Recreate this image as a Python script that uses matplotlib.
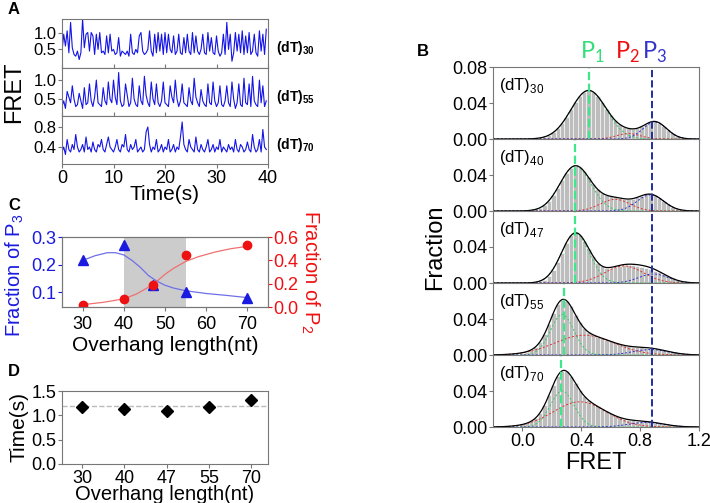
import numpy as np
import matplotlib
matplotlib.use("Agg")
import matplotlib.pyplot as plt

plt.rcParams['font.family'] = ['Liberation Sans', 'DejaVu Sans']
plt.rcParams['mathtext.fontset'] = 'custom'
plt.rcParams['mathtext.rm'] = 'Liberation Sans'

# ---------- panel A : FRET traces (dt = 1/3 s) ----------
trace_names = ['30', '55', '70']
trace_30 = [0.45, 0.95, 0.60, 1.05, 0.40, 1.30, 0.55, 0.35, 0.30, 0.45, 0.20, 0.40,
            1.40, 0.55, 0.95, 1.00, 0.45, 1.00, 0.90, 0.35, 0.95, 0.50, 1.00, 0.40,
            0.45, 0.35, 0.90, 0.40, 0.95, 0.45, 0.50, 0.35, 0.40, 0.85, 0.30, 0.45,
            0.40, 0.35, 0.45, 0.30, 0.95, 0.40, 0.35, 0.50, 0.40, 0.90, 1.00, 0.45,
            0.35, 0.40, 0.50, 1.05, 0.45, 0.30, 0.95, 0.40, 1.00, 0.45, 0.95, 0.35,
            1.00, 0.40, 0.95, 0.50, 0.40, 0.90, 0.35, 0.45, 0.95, 0.40, 0.35, 0.85,
            0.40, 0.95, 0.45, 0.35, 1.00, 0.40, 0.90, 0.45, 0.35, 0.50, 0.95, 0.40,
            0.35, 1.00, 0.45, 0.85, 0.40, 0.35, 0.90, 0.45, 0.30, 0.40, 0.95, 0.35,
            1.30, 0.50, 0.95, 0.15, 0.40, 1.00, 0.45, 0.95, 0.40, 1.05, 0.35, 0.90,
            0.40, 1.00, 0.35, 0.45, 0.95, 0.40, 0.30, 1.05, 0.45, 0.95, 0.35, 1.10]
trace_55 = [0.30, 0.45, 0.25, 0.70, 0.55, 0.40, 0.85, 0.50, 0.30, 0.35, 0.65, 0.45,
            0.25, 0.80, 0.35, 0.40, 0.90, 0.45, 0.30, 0.55, 1.00, 0.40, 0.35, 0.30,
            0.80, 0.45, 0.35, 0.95, 0.50, 0.40, 1.00, 0.55, 0.35, 1.20, 0.45, 0.30,
            0.35, 0.90, 0.60, 0.30, 0.40, 1.05, 0.50, 0.35, 0.30, 0.85, 0.45, 0.35,
            1.10, 0.60, 0.40, 0.30, 0.95, 0.50, 0.35, 0.90, 0.40, 0.30, 0.45, 0.95,
            0.40, 0.35, 0.30, 0.85, 0.55, 0.40, 1.00, 0.50, 0.30, 0.45, 0.90, 0.40,
            0.35, 0.30, 0.80, 0.45, 0.35, 1.05, 0.55, 0.40, 0.30, 0.75, 0.45, 0.35,
            0.30, 0.90, 0.40, 0.35, 0.95, 0.45, 0.30, 0.40, 0.85, 0.35, 0.30, 0.45,
            0.85, 0.40, 0.30, 0.95, 0.50, 0.25, 0.40, 0.90, 0.35, 0.30, 1.05, 0.40,
            0.35, 0.90, 0.30, 1.10, 0.45, 0.35, 0.30, 1.00, 0.40, 0.85, 0.30, 0.45]
trace_70 = [0.30, 0.40, 0.25, 0.55, 0.35, 0.30, 0.45, 0.35, 0.65, 0.40, 0.30, 0.35,
            0.45, 0.30, 0.60, 0.35, 0.40, 0.30, 0.50, 0.35, 0.30, 0.45, 0.40, 0.55,
            0.35, 0.30, 0.45, 0.60, 0.40, 0.35, 0.30, 0.40, 0.55, 0.35, 0.30, 0.45,
            0.40, 0.65, 0.35, 0.30, 0.45, 0.35, 0.40, 0.55, 0.30, 0.35, 0.40, 0.30,
            0.35, 0.70, 0.80, 0.45, 0.30, 0.40, 0.35, 0.55, 0.30, 0.35, 0.45, 0.30,
            0.40, 0.35, 0.55, 0.30, 0.35, 0.45, 0.30, 0.40, 0.35, 0.60, 0.90, 0.45,
            0.35, 0.30, 0.55, 0.40, 0.35, 0.30, 0.60, 0.35, 0.30, 0.45, 0.35, 0.30,
            0.40, 0.55, 0.30, 0.35, 0.45, 0.30, 0.40, 0.35, 0.55, 0.30, 0.40, 0.35,
            0.30, 0.45, 0.35, 0.40, 0.30, 0.55, 0.35, 0.30, 0.45, 0.40, 0.30, 0.35,
            0.50, 0.35, 0.30, 0.65, 0.40, 0.30, 0.35, 0.55, 0.30, 0.75, 0.40, 0.35]
traces = [trace_30, trace_55, trace_70]
trace_ylims = [(-0.05, 1.4), (0.05, 1.32), (0.06, 1.02)]
trace_yticks = [[0.5, 1.0], [0.5, 1.0], [0.4, 0.8]]

# ---------- panel B : FRET histograms ----------
hist_names = ['30', '40', '47', '55', '70']
bin_centers = [round(0.03 * i, 2) for i in range(39)]
hist_30 = [0.0000, 0.0001, 0.0003, 0.0006, 0.0012, 0.0024, 0.0043, 0.0073, 0.0117, 0.0176,
           0.0247, 0.0328, 0.0408, 0.0476, 0.0523, 0.0540, 0.0523, 0.0476, 0.0413, 0.0338,
           0.0267, 0.0208, 0.0164, 0.0135, 0.0118, 0.0113, 0.0119, 0.0139, 0.0166, 0.0188,
           0.0195, 0.0179, 0.0144, 0.0101, 0.0062, 0.0033, 0.0015, 0.0006, 0.0002]
hist_40 = [0.0002, 0.0004, 0.0009, 0.0018, 0.0037, 0.0068, 0.0115, 0.0180, 0.0260, 0.0347,
           0.0425, 0.0481, 0.0503, 0.0487, 0.0439, 0.0373, 0.0302, 0.0243, 0.0202, 0.0177,
           0.0163, 0.0153, 0.0145, 0.0137, 0.0134, 0.0137, 0.0151, 0.0170, 0.0184, 0.0187,
           0.0173, 0.0145, 0.0109, 0.0074, 0.0045, 0.0024, 0.0012, 0.0005, 0.0002]
hist_47 = [0.0000, 0.0001, 0.0002, 0.0006, 0.0017, 0.0038, 0.0078, 0.0140, 0.0228, 0.0338,
           0.0447, 0.0528, 0.0562, 0.0538, 0.0470, 0.0380, 0.0295, 0.0225, 0.0185, 0.0170,
           0.0172, 0.0180, 0.0190, 0.0196, 0.0198, 0.0195, 0.0188, 0.0178, 0.0166, 0.0152,
           0.0136, 0.0117, 0.0096, 0.0074, 0.0053, 0.0036, 0.0022, 0.0012, 0.0006]
hist_55 = [0.0025, 0.0038, 0.0058, 0.0092, 0.0149, 0.0234, 0.0346, 0.0467, 0.0566, 0.0616,
           0.0603, 0.0539, 0.0449, 0.0364, 0.0297, 0.0254, 0.0224, 0.0205, 0.0186, 0.0169,
           0.0152, 0.0135, 0.0120, 0.0108, 0.0099, 0.0092, 0.0089, 0.0086, 0.0082, 0.0078,
           0.0070, 0.0062, 0.0051, 0.0040, 0.0029, 0.0022, 0.0014, 0.0008, 0.0005]
hist_70 = [0.0028, 0.0042, 0.0065, 0.0102, 0.0160, 0.0245, 0.0354, 0.0472, 0.0571, 0.0624,
           0.0620, 0.0567, 0.0488, 0.0410, 0.0345, 0.0297, 0.0260, 0.0228, 0.0201, 0.0174,
           0.0149, 0.0126, 0.0107, 0.0093, 0.0082, 0.0076, 0.0071, 0.0066, 0.0062, 0.0056,
           0.0049, 0.0041, 0.0032, 0.0024, 0.0016, 0.0011, 0.0007, 0.0004, 0.0002]
hists = [hist_30, hist_40, hist_47, hist_55, hist_70]

# Gaussian fit parameters: (center, sigma, amplitude) for P1, P2, P3
fit_p1 = [(0.45, 0.12, 0.054), (0.36, 0.105, 0.050), (0.36, 0.095, 0.055), (0.27, 0.08, 0.045), (0.27, 0.08, 0.040)]
fit_p2 = [(0.72, 0.08, 0.006), (0.63, 0.10, 0.013), (0.69, 0.13, 0.019), (0.42, 0.20, 0.022), (0.39, 0.18, 0.028)]
fit_p3 = [(0.90, 0.08, 0.019), (0.87, 0.09, 0.018), (0.89, 0.10, 0.010), (0.87, 0.12, 0.006), (0.84, 0.12, 0.005)]
p1_pos = [0.45, 0.36, 0.36, 0.28, 0.26]
p3_pos = 0.88

# ---------- panel C ----------
overhang = [30, 40, 47, 55, 70]
frac_p3 = [0.215, 0.27, 0.125, 0.10, 0.08]
frac_p2 = [0.02, 0.07, 0.19, 0.45, 0.53]
curve_x_p3 = [30, 33, 36, 38, 40, 42, 44, 46, 48, 50, 52, 55, 60, 65, 70]
curve_p3 = [0.215, 0.232, 0.243, 0.243, 0.235, 0.215, 0.19, 0.16, 0.14, 0.125, 0.115, 0.105, 0.095, 0.088, 0.08]
curve_x_p2 = [30, 35, 40, 43, 46, 48, 50, 52, 55, 58, 62, 66, 70]
curve_p2 = [0.02, 0.04, 0.07, 0.11, 0.17, 0.22, 0.28, 0.33, 0.39, 0.43, 0.47, 0.50, 0.52]

# ---------- panel D ----------
overhang_labels = ['30', '40', '47', '55', '70']
dwell_time = [1.17, 1.12, 1.08, 1.18, 1.32]
mean_time = 1.2

W, H = 710, 503
fig = plt.figure(figsize=(7.1, 5.03), dpi=100)


def ax_px(x0, y0, x1, y1):
    return fig.add_axes([x0 / W, 1 - y1 / H, (x1 - x0) / W, (y1 - y0) / H])


spine_col = '#777777'
blue = '#1414e6'

# Panel A
tops = [19, 68, 116]
bots = [68, 116, 164]
for k in range(3):
    ax = ax_px(62, tops[k], 268, bots[k])
    t = np.arange(len(traces[k])) / 3.0
    ax.plot(t, traces[k], color=blue, lw=0.8)
    ax.set_xlim(0, 40)
    ax.set_ylim(*trace_ylims[k])
    ax.set_yticks(trace_yticks[k])
    ax.set_xticks([0, 10, 20, 30, 40])
    ax.tick_params(labelsize=12, length=3, color=spine_col, pad=1)
    for s in ax.spines.values():
        s.set_color(spine_col)
    if k < 2:
        ax.tick_params(axis='x', labelbottom=False, direction='in')
    else:
        ax.tick_params(axis='x', labelsize=13)
    ax.text(1.04, 0.4, r'(dT)$_\mathregular{%s}$' % trace_names[k], transform=ax.transAxes,
            fontsize=10, fontweight='bold', va='center')
fig.text(165 / W, 1 - 195 / H, 'Time(s)', fontsize=15, ha='center', va='center')
fig.text(14 / W, 1 - 92 / H, 'FRET', fontsize=17, rotation=90, ha='center', va='center')
fig.text(8 / W, 1 - 10 / H, 'A', fontsize=12, fontweight='bold', va='center')

# Panel C
axc = ax_px(62, 237, 268, 307)
axc.axvspan(40, 55, color='#cccccc', lw=0)
axc.plot(curve_x_p3, curve_p3, color='#6f6fe8', lw=0.9)
axc.plot(overhang, frac_p3, '^', color='#1a1ae0', ms=7)
axc.set_xlim(25, 75)
axc.set_ylim(0.046, 0.3)
axc.set_yticks([0.1, 0.2, 0.3])
axc.set_xticks([30, 40, 50, 60, 70])
axc.tick_params(axis='y', colors='#1a1ae0', labelsize=13, length=3, pad=1)
axc.tick_params(axis='x', labelsize=13, length=3, color=spine_col)
axc.set_ylabel(r'Fraction of P$_\mathregular{3}$', color='#1a1ae0', fontsize=14.5, labelpad=2)
axc.yaxis.set_label_coords(-0.175, 0.45)
axc.set_xlabel('Overhang length(nt)', fontsize=15, labelpad=2)
axr = axc.twinx()
axr.plot(curve_x_p2, curve_p2, color='#f07070', lw=0.9)
axr.plot(overhang, frac_p2, 'o', color='#ee1111', ms=6)
axr.set_ylim(0, 0.6)
axr.set_yticks([0.0, 0.2, 0.4, 0.6])
axr.tick_params(axis='y', colors='#ee1111', labelsize=13, length=3, pad=1)
axr.set_ylabel(r'Fraction of P$_\mathregular{2}$', color='#ee1111', fontsize=14.5, rotation=270, labelpad=16)
for a in (axc, axr):
    for s in a.spines.values():
        s.set_color(spine_col)
fig.text(8 / W, 1 - 205 / H, 'C', fontsize=12, fontweight='bold', va='center')

# Panel D
axd = ax_px(62, 391, 268, 464)
pos = np.arange(1, len(dwell_time) + 1)
axd.axhline(mean_time, color='#bbbbbb', ls='--', lw=1)
axd.plot(pos, dwell_time, 'D', color='black', ms=6)
axd.set_xlim(0.52, 5.4)
axd.set_ylim(0, 1.5)
axd.set_yticks([0.0, 0.5, 1.0, 1.5])
axd.set_xticks(pos)
axd.set_xticklabels(overhang_labels)
axd.tick_params(labelsize=13, length=3, color=spine_col, pad=1)
for s in axd.spines.values():
    s.set_color(spine_col)
axd.set_ylabel('Time(s)', fontsize=15, labelpad=2)
axd.set_xlabel('Overhang length(nt)', fontsize=14.5, labelpad=-1)
fig.text(8 / W, 1 - 372 / H, 'D', fontsize=12, fontweight='bold', va='center')

# Panel B
xf = np.linspace(-0.2, 1.2, 400)


def gauss(p):
    c, s, a = p
    return a * np.exp(-(xf - c) ** 2 / (2 * s * s))


btops = [67, 139, 211, 283, 355]
for k in range(5):
    ax = ax_px(493, btops[k], 699, btops[k] + 72)
    ax.bar(bin_centers, hists[k], width=0.03, color='#bdbdbd', edgecolor='white', lw=0.4)
    g1, g2, g3 = gauss(fit_p1[k]), gauss(fit_p2[k]), gauss(fit_p3[k])
    ax.plot(xf, g1, color='#33cc66', ls=(0, (2, 2)), lw=0.7)
    ax.plot(xf, g2, color='#e03030', ls=(0, (2, 2)), lw=0.7)
    ax.plot(xf, g3, color='#3030d0', ls=(0, (2, 2)), lw=0.7)
    ax.plot(xf, g1 + g2 + g3, color='black', lw=0.9)
    ax.axvline(p1_pos[k], color='#3ee88a', ls='--', lw=1.6)
    ax.axvline(p3_pos, color='#1f2f9f', ls='--', lw=1.4)
    ax.set_xlim(-0.2, 1.2)
    ax.set_ylim(0, 0.08)
    ax.set_yticks([0, 0.04, 0.08] if k == 0 else [0, 0.04])
    ax.set_yticklabels(['0.00', '0.04', '0.08'] if k == 0 else ['0.00', '0.04'])
    ax.set_xticks([0.0, 0.4, 0.8, 1.2])
    ax.tick_params(labelsize=13, length=3, color=spine_col, pad=1)
    if k < 4:
        ax.tick_params(axis='x', labelbottom=False)
    for s in ax.spines.values():
        s.set_color(spine_col)
    ax.text(0.03, 0.88, r'(dT)$_\mathregular{%s}$' % hist_names[k], transform=ax.transAxes,
            fontsize=12, va='top')
    if k == 4:
        ax.set_xlabel('FRET', fontsize=17, labelpad=2)
fig.text(435 / W, 1 - 247 / H, 'Fraction', fontsize=17, rotation=90, ha='center', va='center')
fig.text(423 / W, 1 - 52 / H, 'B', fontsize=12, fontweight='bold', ha='center', va='center')
fig.text(592 / W, 1 - 52 / H, r'P$_\mathregular{1}$', fontsize=17, color='#33dd77', ha='center', va='center', family='Lato')
fig.text(628 / W, 1 - 52 / H, r'P$_\mathregular{2}$', fontsize=17, color='#ee1111', ha='center', va='center', family='Lato')
fig.text(655 / W, 1 - 52 / H, r'P$_\mathregular{3}$', fontsize=17, color='#3333cc', ha='center', va='center', family='Lato')

fig.savefig('out.png', dpi=100)
